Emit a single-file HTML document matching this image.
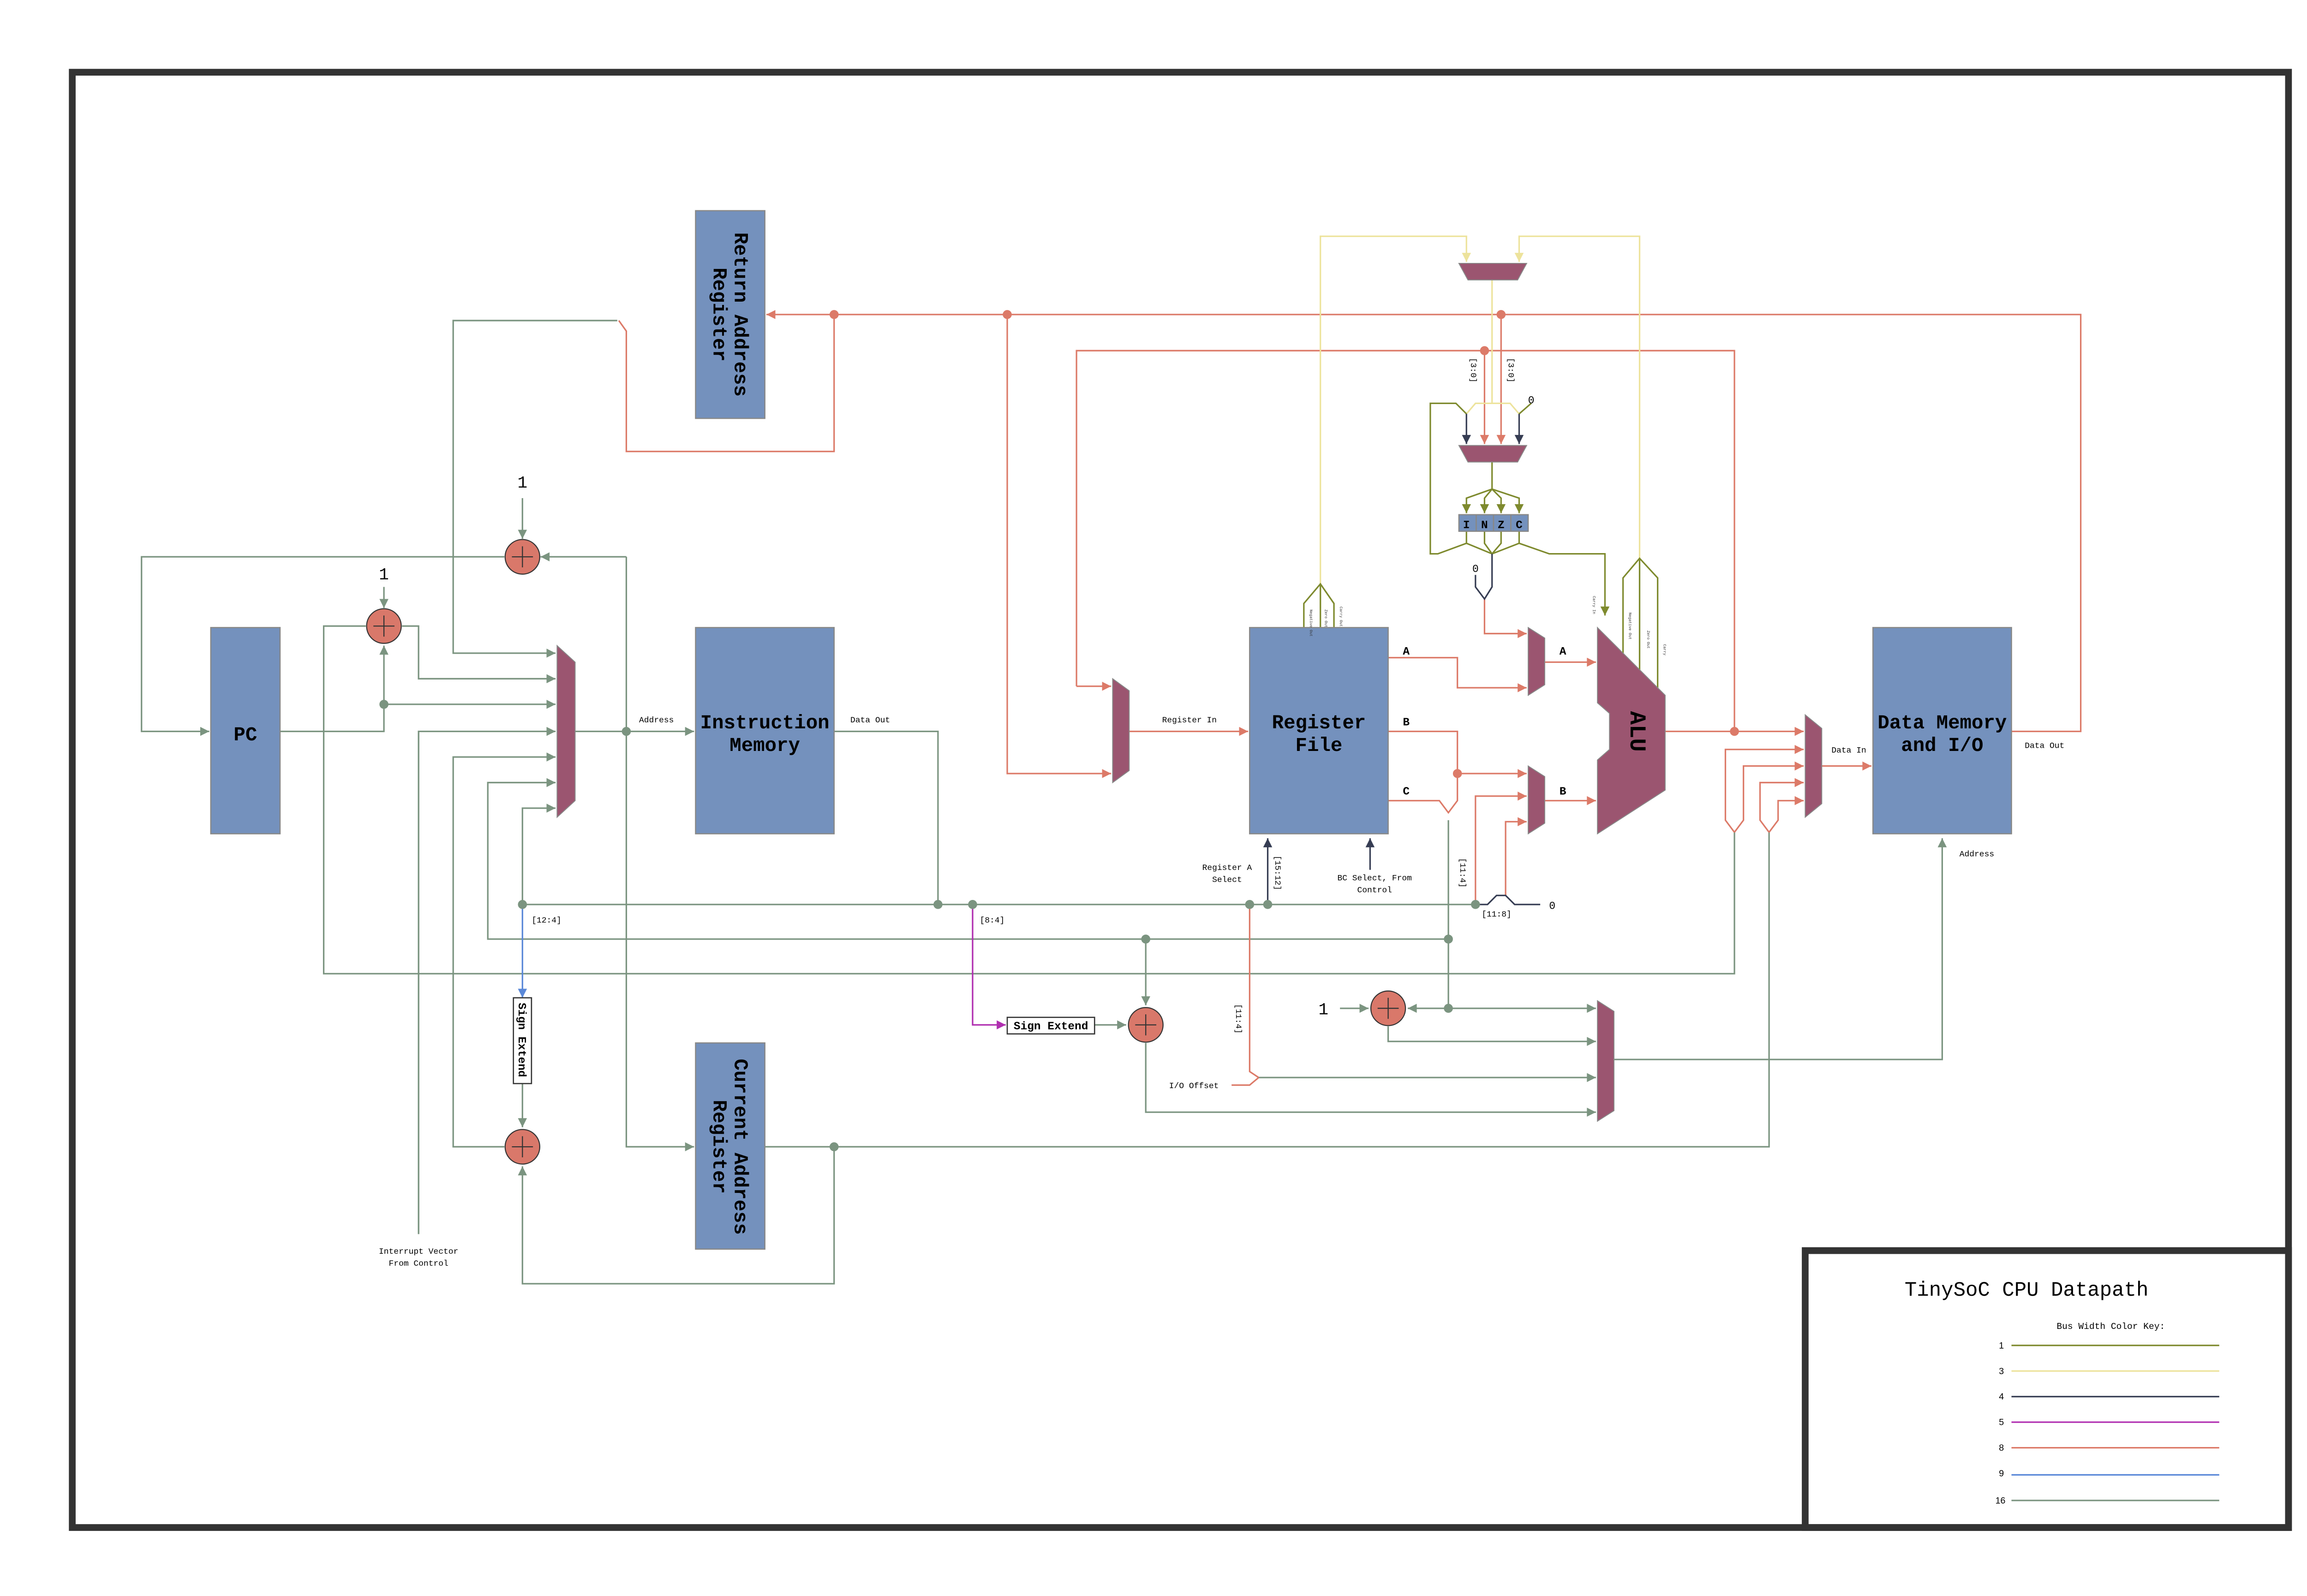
<!DOCTYPE html>
<html><head><meta charset="utf-8"><style>html,body{margin:0;padding:0;background:#fff}svg{display:block}</style></head>
<body>
<svg width="5110" height="3460" viewBox="0 0 1566 1060.5" preserveAspectRatio="none" xmlns="http://www.w3.org/2000/svg" font-family="'Liberation Mono', monospace">
<defs>
<marker id="aG" viewBox="0 0 10 10" refX="10" refY="5" markerWidth="8" markerHeight="6" markerUnits="userSpaceOnUse" orient="auto"><path d="M0,0L10,5L0,10z" fill="#7b9480"/></marker>
<marker id="aS" viewBox="0 0 10 10" refX="10" refY="5" markerWidth="8" markerHeight="6" markerUnits="userSpaceOnUse" orient="auto"><path d="M0,0L10,5L0,10z" fill="#dc7a68"/></marker>
<marker id="aO" viewBox="0 0 10 10" refX="10" refY="5" markerWidth="8" markerHeight="6" markerUnits="userSpaceOnUse" orient="auto"><path d="M0,0L10,5L0,10z" fill="#7e8a2e"/></marker>
<marker id="aY" viewBox="0 0 10 10" refX="10" refY="5" markerWidth="8" markerHeight="6" markerUnits="userSpaceOnUse" orient="auto"><path d="M0,0L10,5L0,10z" fill="#ede39c"/></marker>
<marker id="aN" viewBox="0 0 10 10" refX="10" refY="5" markerWidth="8" markerHeight="6" markerUnits="userSpaceOnUse" orient="auto"><path d="M0,0L10,5L0,10z" fill="#363d53"/></marker>
<marker id="aM" viewBox="0 0 10 10" refX="10" refY="5" markerWidth="8" markerHeight="6" markerUnits="userSpaceOnUse" orient="auto"><path d="M0,0L10,5L0,10z" fill="#b02fb0"/></marker>
<marker id="aB" viewBox="0 0 10 10" refX="10" refY="5" markerWidth="8" markerHeight="6" markerUnits="userSpaceOnUse" orient="auto"><path d="M0,0L10,5L0,10z" fill="#5a88d8"/></marker>
</defs>
<rect width="1566" height="1060.5" fill="#fff"/>
<!-- frame -->
<rect x="48" y="48" width="1472" height="967" fill="none" stroke="#333" stroke-width="4.5"/>
<rect x="1199" y="831" width="321" height="184" fill="none" stroke="#333" stroke-width="4.5"/>

<g fill="none" stroke-width="1">
<!-- 16-bit green lines -->
<g stroke="#7b9480">
<polyline points="186,486 255,486 255,429" marker-end="url(#aG)"/>
<polyline points="255,468 369,468" marker-end="url(#aG)"/>
<polyline points="267,416 278,416 278,451 369,451" marker-end="url(#aG)"/>
<polyline points="243,416 215,416 215,647 1152,647 1152,553"/>
<polyline points="335,370 94,370 94,486 139,486" marker-end="url(#aG)"/>
<polyline points="416,370 359,370" marker-end="url(#aG)"/>
<polyline points="347,331 347,358" marker-end="url(#aG)"/>
<polyline points="255,390 255,404" marker-end="url(#aG)"/>
<polyline points="416,370 416,762 461,762" marker-end="url(#aG)"/>
<polyline points="382,486 461,486" marker-end="url(#aG)"/>
<polyline points="410,213 301,213 301,434 369,434" marker-end="url(#aG)"/>
<polyline points="278,820 278,486 369,486" marker-end="url(#aG)"/>
<polyline points="335,762 301,762 301,503 369,503" marker-end="url(#aG)"/>
<polyline points="962,624 324,624 324,520 369,520" marker-end="url(#aG)"/>
<polyline points="347,601 347,537 369,537" marker-end="url(#aG)"/>
<polyline points="554,486 623,486 623,601"/>
<polyline points="347,601 980,601"/>
<polyline points="347,720 347,749" marker-end="url(#aG)"/>
<polyline points="508,762 1175,762 1175,553"/>
<polyline points="554,762 554,853 347,853 347,775" marker-end="url(#aG)"/>
<polyline points="727,681 748,681" marker-end="url(#aG)"/>
<polyline points="761,624 761,668" marker-end="url(#aG)"/>
<polyline points="761,693 761,739 1060,739" marker-end="url(#aG)"/>
<polyline points="962,545 962,670 1060,670" marker-end="url(#aG)"/>
<polyline points="962,670 935,670" marker-end="url(#aG)"/>
<polyline points="890,670 909,670" marker-end="url(#aG)"/>
<polyline points="922,682 922,692 1060,692" marker-end="url(#aG)"/>
<polyline points="836,716 1060,716" marker-end="url(#aG)"/>
<polyline points="1072,704 1290,704 1290,557" marker-end="url(#aG)"/>
<polyline points="278,820 278,486"/>
</g>
<!-- 8-bit salmon -->
<g stroke="#dc7a68">
<polyline points="1336,486 1382,486 1382,209 509,209" marker-end="url(#aS)"/>
<polyline points="554,209 554,300 416,300 416,220 411,213"/>
<polyline points="669,209 669,514 738,514" marker-end="url(#aS)"/>
<polyline points="715,456 715,233 1152,233 1152,486"/>
<polyline points="715,456 738,456" marker-end="url(#aS)"/>
<polyline points="750,486 829,486" marker-end="url(#aS)"/>
<polyline points="986,233 986,295" marker-end="url(#aS)"/>
<polyline points="997,209 997,295" marker-end="url(#aS)"/>
<polyline points="986,398 986,421 1014,421" marker-end="url(#aS)"/>
<polyline points="922,437 968,437 968,457 1014,457" marker-end="url(#aS)"/>
<polyline points="1026,440 1060,440" marker-end="url(#aS)"/>
<polyline points="922,486 968,486 968,514 1014,514" marker-end="url(#aS)"/>
<polyline points="922,532 956,532 962,540 968,532 968,514"/>
<polyline points="980,601 980,529 1014,529" marker-end="url(#aS)"/>
<polyline points="1000,595 1000,546 1014,546" marker-end="url(#aS)"/>
<polyline points="1026,532 1060,532" marker-end="url(#aS)"/>
<polyline points="1106,486 1198,486" marker-end="url(#aS)"/>
<polyline points="1152,553 1146,545 1146,498 1198,498" marker-end="url(#aS)"/>
<polyline points="1152,553 1158,545 1158,509 1198,509" marker-end="url(#aS)"/>
<polyline points="1175,553 1169,545 1169,520 1198,520" marker-end="url(#aS)"/>
<polyline points="1175,553 1181,545 1181,532 1198,532" marker-end="url(#aS)"/>
<polyline points="1210,509 1243,509" marker-end="url(#aS)"/>
<polyline points="830,601 830,712 836,716"/>
<polyline points="818,721 830,721 836,716"/>
</g>
<!-- yellow 3-bit -->
<g stroke="#ede39c">
<polyline points="877,404 877,157 974,157 974,174" marker-end="url(#aY)"/>
<polyline points="1089,371 1089,157 1009,157 1009,174" marker-end="url(#aY)"/>
<polyline points="991,186 991,268 980,268 974,275"/>
<polyline points="991,268 1003,268 1009,275"/>
</g>
<!-- olive 1-bit -->
<g stroke="#7e8a2e">
<polyline points="991,307 991,325"/>
<polyline points="991,325 974,331 974,341" marker-end="url(#aO)"/>
<polyline points="991,325 986,331 986,341" marker-end="url(#aO)"/>
<polyline points="991,325 997,331 997,341" marker-end="url(#aO)"/>
<polyline points="991,325 1009,331 1009,341" marker-end="url(#aO)"/>
<polyline points="974,353 974,361 991,368 1009,361 1009,353"/>
<polyline points="986,353 986,361 991,368 997,361 997,353"/>
<polyline points="974,361 955,368 950,368 950,268 967,268 974,275"/>
<polyline points="1009,361 1029,368 1066,368 1066,409" marker-end="url(#aO)"/>
<polyline points="866,417 866,401 877,388 886,401 886,417"/>
<polyline points="877,388 877,417"/>
<polyline points="1078,440 1078,384 1089,371 1101,384 1101,460"/>
<polyline points="1089,371 1089,452"/>
<polyline points="1017,268 1009,275"/>
</g>
<!-- navy 4-bit -->
<g stroke="#363d53">
<polyline points="974,275 974,295" marker-end="url(#aN)"/>
<polyline points="1009,275 1009,295" marker-end="url(#aN)"/>
<polyline points="991,368 991,390 986,398 980,390 980,382"/>
<polyline points="842,601 842,557" marker-end="url(#aN)"/>
<polyline points="910,578 910,557" marker-end="url(#aN)"/>
<polyline points="980,601 988,601 994,595 1000,595 1006,601 1023,601"/>
</g>
<polyline points="646,601 646,681 668,681" stroke="#b02fb0" marker-end="url(#aM)"/>
<polyline points="347,601 347,663" stroke="#5a88d8" marker-end="url(#aB)"/>
</g>

<!-- dots -->
<g fill="#7b9480">
<circle cx="255" cy="468" r="3"/><circle cx="416" cy="486" r="3"/><circle cx="347" cy="601" r="3"/>
<circle cx="623" cy="601" r="3"/><circle cx="646" cy="601" r="3"/><circle cx="761" cy="624" r="3"/>
<circle cx="962" cy="624" r="3"/><circle cx="830" cy="601" r="3"/><circle cx="842" cy="601" r="3"/>
<circle cx="980" cy="601" r="3"/><circle cx="962" cy="670" r="3"/><circle cx="554" cy="762" r="3"/>
</g>
<g fill="#dc7a68">
<circle cx="554" cy="209" r="3"/><circle cx="669" cy="209" r="3"/><circle cx="997" cy="209" r="3"/>
<circle cx="986" cy="233" r="3"/><circle cx="968" cy="514" r="3"/><circle cx="1152" cy="486" r="3"/>
</g>

<!-- boxes -->
<g fill="#7491bd" stroke="#888" stroke-width="0.8">
<rect x="462" y="140" width="46" height="138"/>
<rect x="140" y="417" width="46" height="137"/>
<rect x="462" y="417" width="92" height="137"/>
<rect x="462" y="693" width="46" height="137"/>
<rect x="830" y="417" width="92" height="137"/>
<rect x="1244" y="417" width="92" height="137"/>
<rect x="969" y="342" width="11.5" height="11"/><rect x="980.5" y="342" width="11.5" height="11"/>
<rect x="992" y="342" width="11.5" height="11"/><rect x="1003.5" y="342" width="11.5" height="11"/>
</g>
<!-- muxes -->
<g fill="#9b5570" stroke="#888" stroke-width="0.6">
<polygon points="370,429 382,440 382,532 370,543"/>
<polygon points="739,451 750,459 750,512 739,520"/>
<polygon points="1015,417 1026,424 1026,455 1015,462"/>
<polygon points="1015,509 1026,516 1026,547 1015,554"/>
<polygon points="1199,475 1210,484 1210,534 1199,543"/>
<polygon points="1061,665 1072,672 1072,738 1061,745"/>
<polygon points="969,175 1014,175 1008,186 975,186"/>
<polygon points="969,296 1014,296 1008,307 975,307"/>
<polygon points="1061,417 1106,462 1106,525 1061,554 1061,505 1069,498 1069,474 1061,467"/>
</g>
<!-- adders -->
<g fill="#d9786a" stroke="#333" stroke-width="0.7">
<circle cx="347" cy="370" r="11.5"/><circle cx="255" cy="416" r="11.5"/><circle cx="347" cy="762" r="11.5"/>
<circle cx="761" cy="681" r="11.5"/><circle cx="922" cy="670" r="11.5"/>
</g>
<g stroke="#333" stroke-width="0.7">
<path d="M340,370h14M347,363v14M248,416h14M255,409v14M340,762h14M347,755v14M754,681h14M761,674v14M915,670h14M922,663v14"/>
</g>
<rect x="669" y="676" width="58" height="11" fill="#fff" stroke="#333" stroke-width="0.8"/>
<rect x="341" y="663" width="12" height="57" fill="#fff" stroke="#333" stroke-width="0.8"/>

<!-- texts -->
<g fill="#000" font-size="13" text-anchor="middle" font-weight="bold">
<text x="163" y="492">PC</text>
<text x="508" y="484">Instruction</text><text x="508" y="499">Memory</text>
<text x="876" y="484">Register</text><text x="876" y="499">File</text>
<text x="1290" y="484">Data Memory</text><text x="1290" y="499">and I/O</text>
<text transform="translate(485,209) rotate(90)" x="0" y="-3">Return Address</text>
<text transform="translate(485,209) rotate(90)" x="0" y="11">Register</text>
<text transform="translate(485,762) rotate(90)" x="0" y="-3">Current Address</text>
<text transform="translate(485,762) rotate(90)" x="0" y="11">Register</text>
<text transform="translate(1083,486) rotate(90)" font-size="15">ALU</text>
</g>
<g font-size="11" text-anchor="middle">
<text x="347" y="324">1</text><text x="255" y="385">1</text><text x="879" y="674">1</text>
</g>
<g font-size="7.5" font-weight="bold" text-anchor="middle">
<text x="974" y="351">I</text><text x="986" y="351">N</text><text x="997" y="351">Z</text><text x="1009" y="351">C</text>
<text x="698" y="684">Sign Extend</text>
<text transform="translate(347,691) rotate(90)" y="2.5">Sign Extend</text>
<text x="934" y="435">A</text><text x="934" y="482">B</text><text x="934" y="528">C</text>
<text x="1038" y="435">A</text><text x="1038" y="528">B</text>
</g>
<g font-size="5.5" text-anchor="middle">
<text x="436" y="480">Address</text><text x="578" y="480">Data Out</text>
<text x="790" y="480">Register In</text>
<text x="1228" y="500">Data In</text><text x="1358" y="497">Data Out</text>
<text x="1313" y="569">Address</text>
<text x="815" y="578">Register A</text><text x="815" y="586">Select</text>
<text x="913" y="585">BC Select, From</text><text x="913" y="593">Control</text>
<text x="278" y="833">Interrupt Vector</text><text x="278" y="841">From Control</text>
<text x="793" y="723">I/O Offset</text>
<text x="363" y="613">[12:4]</text><text x="659" y="613">[8:4]</text><text x="994" y="609">[11:8]</text>
<text transform="translate(849,580) rotate(90)" y="2">[15:12]</text>
<text transform="translate(972,580) rotate(90)" y="2">[11:4]</text>
<text transform="translate(823,677) rotate(90)" y="2">[11:4]</text>
<text transform="translate(979,246) rotate(90)" y="2">[3:0]</text>
<text transform="translate(1004,246) rotate(90)" y="2">[3:0]</text>
</g>
<g font-size="7" text-anchor="middle">
<text x="1017" y="268">0</text><text x="980" y="380">0</text><text x="1031" y="604">0</text>
</g>
<g font-size="2.5" fill="#333">
<text transform="translate(870,405) rotate(90)">Negative Out</text>
<text transform="translate(880,405) rotate(90)">Zero Out</text>
<text transform="translate(890,403) rotate(90)">Carry Out</text>
<text transform="translate(1058,396) rotate(90)">Carry In</text>
<text transform="translate(1082,407) rotate(90)">Negative Out</text>
<text transform="translate(1094,419) rotate(90)">Zero Out</text>
<text transform="translate(1105,428) rotate(90)">Carry</text>
</g>

<!-- legend -->
<text x="1346" y="861" font-size="13.5" text-anchor="middle">TinySoC CPU Datapath</text>
<text x="1402" y="883" font-size="6" text-anchor="middle">Bus Width Color Key:</text>
<g font-size="6" text-anchor="end" font-family="'Liberation Sans', sans-serif">
<text x="1331" y="896">1</text><text x="1331" y="913">3</text><text x="1331" y="930">4</text>
<text x="1331" y="947">5</text><text x="1331" y="964">8</text><text x="1331" y="981">9</text><text x="1332" y="999">16</text>
</g>
<g stroke-width="1">
<line x1="1336" y1="894" x2="1474" y2="894" stroke="#7e8a2e"/>
<line x1="1336" y1="911" x2="1474" y2="911" stroke="#ede39c"/>
<line x1="1336" y1="928" x2="1474" y2="928" stroke="#363d53"/>
<line x1="1336" y1="945" x2="1474" y2="945" stroke="#b02fb0"/>
<line x1="1336" y1="962" x2="1474" y2="962" stroke="#dc7a68"/>
<line x1="1336" y1="980" x2="1474" y2="980" stroke="#5a88d8"/>
<line x1="1336" y1="997" x2="1474" y2="997" stroke="#7b9480"/>
</g>
</svg>
</body></html>
